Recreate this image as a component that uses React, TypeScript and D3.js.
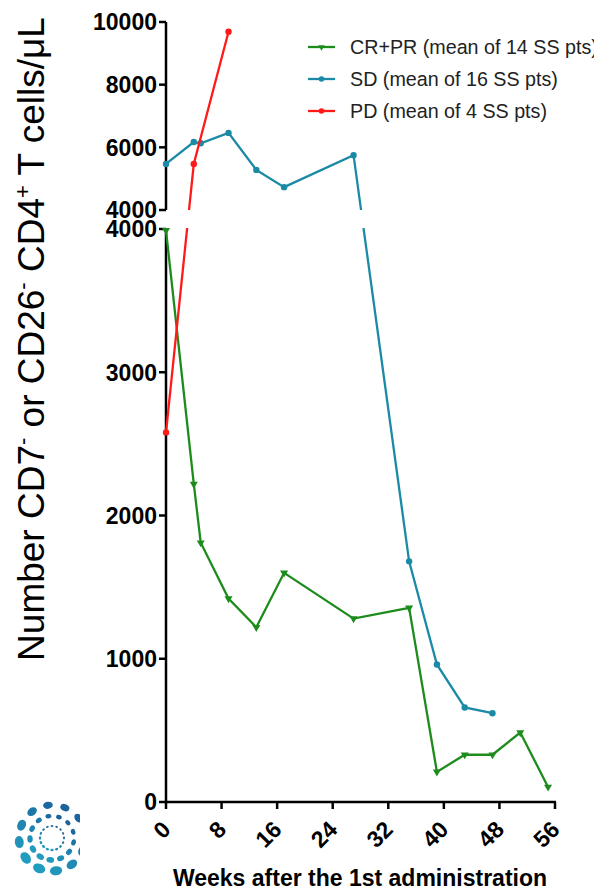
import {useEffect, useRef} from "react";
import * as d3 from "d3";

// weeks after 1st administration and mean cell counts
const weeksCR = [0, 4, 5, 9, 13, 17, 27, 35, 39, 43, 47, 51, 55];
const valuesCR = [3990, 2220, 1810, 1420, 1220, 1600, 1280, 1355, 210, 330, 330, 485, 105];
const weeksSD = [0, 4, 5, 9, 13, 17, 27, 35, 39, 43, 47];
const valuesSD = [5470, 6170, 6130, 6460, 5280, 4730, 5750, 1680, 960, 660, 620];
const weeksPD = [0, 4, 9];
const valuesPD = [2580, 5470, 9690];

const xTicks = [0, 8, 16, 24, 32, 40, 48, 56];
const yTopTicks = [4000, 6000, 8000, 10000];
const yBotTicks = [0, 1000, 2000, 3000, 4000];

const seriesNames = ["CR+PR (mean of 14 SS pts)", "SD (mean of 16 SS pts)", "PD (mean of 4 SS pts)"];
const colors = ["#1d8c1d", "#1b8aa6", "#ff1a1a"];

const FONT = "'Liberation Sans', Arial, sans-serif";

const App = () => {
    const ref = useRef<SVGSVGElement>(null);

    useEffect(() => {
        const svg = d3.select(ref.current);
        svg.selectAll("*").remove();

        const x = d3.scaleLinear().domain([0, 56]).range([166, 555]);
        const yTop = d3.scaleLinear().domain([4000, 10000]).range([210, 22]);
        const yBot = d3.scaleLinear().domain([0, 4000]).range([802, 229]);
        // broken axis: values above 4000 go to the upper segment
        const y = (v: number) => (v > 4000 ? yTop(v) : yBot(v));

        const defs = svg.append("defs");
        const clip = defs.append("clipPath").attr("id", "brk");
        clip.append("rect").attr("x", 0).attr("y", 0).attr("width", 602).attr("height", 210);
        clip.append("rect").attr("x", 0).attr("y", 228).attr("width", 602).attr("height", 667);
        defs.append("clipPath").attr("id", "logoclip")
            .append("rect").attr("x", 0).attr("y", 790).attr("width", 80).attr("height", 105);

        // axes
        const axes = svg.append("g").attr("stroke", "#000").attr("stroke-width", 2.5);
        axes.append("line").attr("x1", 166).attr("x2", 166).attr("y1", yTop(10000)).attr("y2", yTop(4000));
        axes.append("line").attr("x1", 166).attr("x2", 166).attr("y1", yBot(4000)).attr("y2", yBot(0) + 1.2);
        axes.append("line").attr("x1", 165).attr("x2", x(56) + 1).attr("y1", yBot(0)).attr("y2", yBot(0));

        axes.selectAll(".tt").data(yTopTicks).enter().append("line")
            .attr("x1", 159).attr("x2", 166).attr("y1", d => yTop(d)).attr("y2", d => yTop(d));
        axes.selectAll(".bt").data(yBotTicks).enter().append("line")
            .attr("x1", 159).attr("x2", 166).attr("y1", d => yBot(d)).attr("y2", d => yBot(d));
        axes.selectAll(".xt").data(xTicks).enter().append("line")
            .attr("x1", d => x(d)).attr("x2", d => x(d)).attr("y1", yBot(0)).attr("y2", yBot(0) + 7);

        const lab = svg.append("g").attr("font-family", FONT).attr("font-weight", "bold")
            .attr("font-size", 23).attr("fill", "#000");
        lab.selectAll(".tl").data(yTopTicks).enter().append("text")
            .attr("x", 157).attr("y", d => yTop(d)).attr("dy", "0.36em").attr("text-anchor", "end")
            .text(d => d);
        lab.selectAll(".bl").data(yBotTicks).enter().append("text")
            .attr("x", 157).attr("y", d => yBot(d)).attr("dy", "0.36em").attr("text-anchor", "end")
            .text(d => d);
        lab.selectAll(".xl").data(xTicks).enter().append("text")
            .attr("transform", d => `translate(${x(d) + 6},831) rotate(-45)`)
            .attr("text-anchor", "end").text(d => d);

        svg.append("text").attr("x", 360).attr("y", 886).attr("text-anchor", "middle")
            .attr("font-family", FONT).attr("font-weight", "bold").attr("font-size", 23)
            .text("Weeks after the 1st administration");

        const yt = svg.append("text").attr("transform", "translate(44,339) rotate(-90)")
            .attr("text-anchor", "middle").attr("font-family", FONT).attr("font-size", 37);
        yt.append("tspan").text("Number CD7");
        yt.append("tspan").attr("font-size", 22).attr("dy", -14).text("-");
        yt.append("tspan").attr("dy", 14).text(" or CD26");
        yt.append("tspan").attr("font-size", 22).attr("dy", -14).text("-");
        yt.append("tspan").attr("dy", 14).text(" CD4");
        yt.append("tspan").attr("font-size", 22).attr("dy", -14).text("+");
        yt.append("tspan").attr("dy", 14).text(" T cells/\u03bcL");

        // series
        const series = [
            {w: weeksCR, v: valuesCR, mark: "tri"},
            {w: weeksSD, v: valuesSD, mark: "dot"},
            {w: weeksPD, v: valuesPD, mark: "dot"},
        ];
        const line = d3.line<[number, number]>().x(d => x(d[0])).y(d => y(d[1]));
        const tri = d3.symbol().type(d3.symbolTriangle).size(28);

        series.forEach((s, i) => {
            const pts: [number, number][] = s.w.map((w, j) => [w, s.v[j]]);
            const g = svg.append("g");
            g.append("path").attr("d", line(pts)).attr("fill", "none")
                .attr("stroke", colors[i]).attr("stroke-width", 2.3).attr("clip-path", "url(#brk)");
            if (s.mark === "tri") {
                g.selectAll("path.m").data(pts).enter().append("path").attr("class", "m")
                    .attr("d", tri).attr("fill", colors[i])
                    .attr("transform", d => `translate(${x(d[0])},${y(d[1])}) rotate(180)`);
            } else {
                g.selectAll("circle").data(pts).enter().append("circle")
                    .attr("cx", d => x(d[0])).attr("cy", d => y(d[1])).attr("r", 3.2).attr("fill", colors[i]);
            }
        });

        // legend
        const leg = svg.append("g");
        seriesNames.forEach((name, i) => {
            const ly = 47 + i * 32;
            leg.append("line").attr("x1", 308).attr("x2", 335).attr("y1", ly).attr("y2", ly)
                .attr("stroke", colors[i]).attr("stroke-width", 2.3);
            if (i === 0) {
                leg.append("path").attr("d", tri).attr("fill", colors[i])
                    .attr("transform", `translate(321.5,${ly}) rotate(180) scale(0.8)`);
            } else {
                leg.append("circle").attr("cx", 321.5).attr("cy", ly).attr("r", 2.8).attr("fill", colors[i]);
            }
            leg.append("text").attr("x", 350).attr("y", ly).attr("dy", "0.35em")
                .attr("font-family", FONT).attr("font-size", 19.7).attr("fill", "#222").text(name);
        });

        // logo (decorative dots)
        const logo = svg.append("g").attr("clip-path", "url(#logoclip)");
        const lc = [52, 838];
        const rings = [
            {r: 12, n: 16, s: 1.6},
            {r: 22, n: 13, s: 3.6},
            {r: 33, n: 12, s: 5.8},
        ];
        const col = d3.interpolateRgb("#23a8c6", "#1a5796");
        rings.forEach((rg, ri) => {
            for (let k = 0; k < rg.n; k++) {
                const a = (k / rg.n) * Math.PI * 2 + ri * 0.2;
                const px = lc[0] + rg.r * Math.cos(a);
                const py = lc[1] + rg.r * Math.sin(a);
                const t = (Math.sin(-a) + 1) / 2 * 0.6 + (Math.cos(a) + 1) / 2 * 0.4;
                // dots shrink toward the upper right
                const sc = 1 - 0.35 * t;
                logo.append("ellipse").attr("cx", px).attr("cy", py)
                    .attr("rx", rg.s * 1.15 * sc).attr("ry", rg.s * 0.85 * sc)
                    .attr("transform", `rotate(${(a * 180) / Math.PI + 90},${px},${py})`)
                    .attr("fill", col(t));
            }
        });
    }, []);

    return (
        <div>
            <svg ref={ref} width={602} height={895} style={{display: "block", margin: "-8px"}}/>
        </div>
    );
};

export default App;
